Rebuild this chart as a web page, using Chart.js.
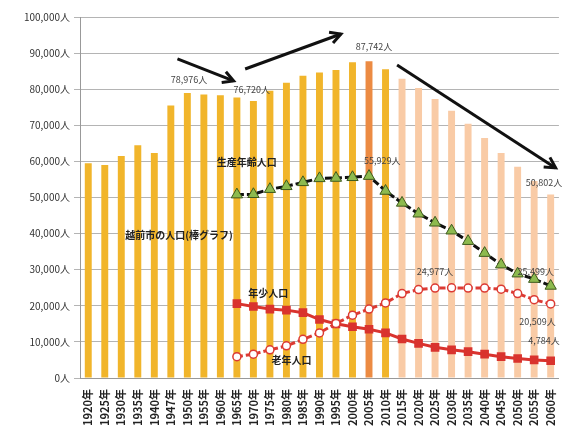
<!DOCTYPE html>
<html>
<head>
<meta charset="utf-8">
<script src="https://cdn.jsdelivr.net/npm/chart.js@4/dist/chart.umd.min.js"></script>
<style>
  html, body { margin: 0; padding: 0; background: #fff; }
  #wrap { width: 567px; height: 434px; }
</style>
</head>
<body>
<div id="wrap"><canvas id="popChart"></canvas></div>
<script>
const years = ["1920年", "1925年", "1930年", "1935年", "1940年", "1947年", "1950年", "1955年", "1960年",
  "1965年", "1970年", "1975年", "1980年", "1985年", "1990年", "1995年", "2000年", "2005年", "2010年",
  "2015年", "2020年", "2025年", "2030年", "2035年", "2040年", "2045年", "2050年", "2055年", "2060年"];

const totalPop = [59500, 59000, 61500, 64500, 62300, 75500, 78976, 78500, 78300,
  77700, 76720, 79600, 81800, 83700, 84600, 85300, 87500, 87742, 85500,
  82900, 80300, 77300, 74000, 70400, 66500, 62300, 58500, 54600, 50802];

const workingAge = [null, null, null, null, null, null, null, null, null,
  50800, 50900, 52300, 53100, 54200, 55300, 55400, 55600, 55929, 51800,
  48500, 45500, 43000, 40800, 37900, 34600, 31400, 28900, 27400, 25499];

const elderly = [null, null, null, null, null, null, null, null, null,
  5900, 6600, 7800, 8900, 10700, 12500, 15100, 17400, 19100, 20800,
  23400, 24500, 24900, 24977, 24900, 24900, 24600, 23400, 21700, 20509];

const youth = [null, null, null, null, null, null, null, null, null,
  20600, 19800, 19100, 18800, 18100, 16200, 15000, 14200, 13500, 12500,
  10800, 9600, 8500, 7800, 7300, 6600, 5900, 5400, 5000, 4784];

const yTicks = [0, 10000, 20000, 30000, 40000, 50000, 60000, 70000, 80000, 90000, 100000];

// text labels placed in data units (category index, value)
const notes = [
  { text: "78,976人", i: 6.1, v: 82800 },
  { text: "76,720人", i: 9.9, v: 80000 },
  { text: "87,742人", i: 17.3, v: 91700 },
  { text: "55,929人", i: 17.8, v: 60100 },
  { text: "50,802人", i: 27.6, v: 54000 },
  { text: "25,499人", i: 27.1, v: 29400 },
  { text: "24,977人", i: 21.0, v: 29400 },
  { text: "20,509人", i: 27.2, v: 15500 },
  { text: "4,784人", i: 27.6, v: 10500 },
  { text: "生産年齢人口", i: 9.6, v: 59800, bold: true },
  { text: "越前市の人口(棒グラフ)", i: 5.5, v: 39600, bold: true },
  { text: "年少人口", i: 10.9, v: 23500, bold: true },
  { text: "老年人口", i: 12.3, v: 5000, bold: true }
];

const arrows = [
  { i1: 5.4, v1: 88400, i2: 8.8, v2: 82300 },
  { i1: 9.5, v1: 85600, i2: 15.3, v2: 95300 },
  { i1: 18.7, v1: 86700, i2: 28.3, v2: 58200 }
];

const barColors = years.map((y, i) => {
  if (i === 17) return "#EC8B43";
  if (i > 18) return "#F9CBA6";
  return "#F1B52B";
});

const notesPlugin = {
  id: "notes",
  afterDatasetsDraw(chart) {
    const ctx = chart.ctx;
    const xs = chart.scales.x;
    const ys = chart.scales.y;
    const px = (i) => xs.getPixelForValue(0) + i * (xs.getPixelForValue(1) - xs.getPixelForValue(0));
    ctx.save();
    ctx.textAlign = "center";
    ctx.textBaseline = "middle";
    notes.forEach((n) => {
      ctx.font = (n.bold ? "bold 10px" : "9px") + " 'Noto Sans CJK JP', sans-serif";
      ctx.fillStyle = n.bold ? "#222" : "#444";
      ctx.fillText(n.text, px(n.i), ys.getPixelForValue(n.v));
    });
    ctx.strokeStyle = "#111";
    ctx.fillStyle = "#111";
    ctx.lineWidth = 3;
    arrows.forEach((a) => {
      const x1 = px(a.i1), y1 = ys.getPixelForValue(a.v1);
      const x2 = px(a.i2), y2 = ys.getPixelForValue(a.v2);
      const ang = Math.atan2(y2 - y1, x2 - x1);
      ctx.beginPath();
      ctx.moveTo(x1, y1);
      ctx.lineTo(x2, y2);
      ctx.stroke();
      ctx.beginPath();
      ctx.moveTo(x2 - 12 * Math.cos(ang - 0.5), y2 - 12 * Math.sin(ang - 0.5));
      ctx.lineTo(x2, y2);
      ctx.lineTo(x2 - 12 * Math.cos(ang + 0.5), y2 - 12 * Math.sin(ang + 0.5));
      ctx.stroke();
    });
    ctx.restore();
  }
};

new Chart(document.getElementById("popChart"), {
  type: "bar",
  data: {
    labels: years,
    datasets: [
      {
        type: "line",
        label: "生産年齢人口",
        data: workingAge,
        borderColor: "#111",
        borderWidth: 3,
        borderDash: [7, 3],
        pointStyle: "triangle",
        pointRadius: 6.5,
        pointBackgroundColor: "#8DBA4E",
        pointBorderColor: "#3D5A1E",
        pointBorderWidth: 1,
        order: 1
      },
      {
        type: "line",
        label: "老年人口",
        data: elderly,
        borderColor: "#DC3A33",
        borderWidth: 3,
        borderDash: [6, 3],
        pointStyle: "circle",
        pointRadius: 4,
        pointBackgroundColor: "#fff",
        pointBorderColor: "#DC3A33",
        pointBorderWidth: 1.5,
        order: 2
      },
      {
        type: "line",
        label: "年少人口",
        data: youth,
        borderColor: "#D9332E",
        borderWidth: 3,
        pointStyle: "rect",
        pointRadius: 4,
        pointBackgroundColor: "#D9332E",
        pointBorderColor: "#D9332E",
        order: 3
      },
      {
        label: "越前市の人口",
        data: totalPop,
        backgroundColor: barColors,
        categoryPercentage: 1.0,
        barPercentage: 0.42,
        order: 4
      }
    ]
  },
  options: {
    responsive: true,
    maintainAspectRatio: false,
    animation: false,
    layout: { padding: { left: 0, right: 6, top: 17, bottom: 0 } },
    plugins: {
      legend: { display: false },
      tooltip: { enabled: false }
    },
    scales: {
      x: {
        grid: { display: false, drawTicks: true },
        border: { color: "#999" },
        ticks: {
          autoSkip: false,
          maxRotation: 90,
          minRotation: 90,
          color: "#222",
          font: { family: "'Noto Sans CJK JP', sans-serif", size: 11, weight: "bold" }
        },
        afterFit(scale) { scale.height = 56; }
      },
      y: {
        min: 0,
        max: 100000,
        afterBuildTicks(scale) { scale.ticks = yTicks.map((v) => ({ value: v })); },
        grid: { color: "#B4B4B4", lineWidth: 1, drawTicks: true, tickLength: 6 },
        border: { color: "#999" },
        ticks: {
          color: "#333",
          padding: 4,
          font: { family: "'Noto Sans CJK JP', sans-serif", size: 10 },
          callback: (v) => v.toLocaleString("en-US") + "人"
        },
        afterFit(scale) { scale.width = 80; }
      }
    }
  },
  plugins: [notesPlugin]
});
</script>
</body>
</html>
